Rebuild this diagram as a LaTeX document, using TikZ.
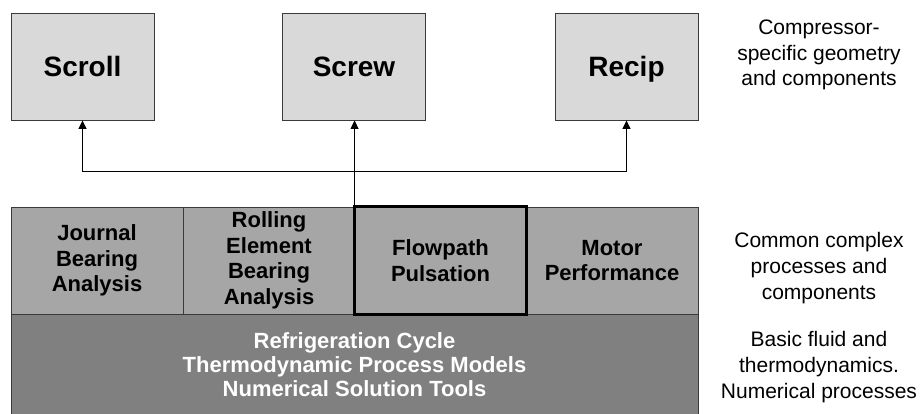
\documentclass[tikz,border=0pt]{standalone}
\usepackage{fontspec}
\setmainfont{Liberation Sans}
\usetikzlibrary{arrows.meta}
\definecolor{topfill}{HTML}{D9D9D9}
\definecolor{midfill}{HTML}{A6A6A6}
\definecolor{basefill}{HTML}{808080}
\definecolor{edge}{HTML}{3A3A3A}
\tikzset{
  compbox/.style={draw=edge, line width=0.9pt, fill=topfill, minimum width=143pt,
    minimum height=107pt, inner sep=0pt, text height=20pt, text depth=0pt,
    font=\fontsize{28}{32}\selectfont\bfseries},
  midbox/.style={draw=edge, line width=0.9pt, fill=midfill, minimum height=107pt,
    inner sep=0pt, align=center, font=\fontsize{22}{25.5}\selectfont\bfseries},
  basebox/.style={draw=edge, line width=0.9pt, fill=basefill, inner sep=0pt},
  basetext/.style={text=white, align=center, inner sep=0pt,
    font=\fontsize{22}{24}\selectfont\bfseries},
  layertext/.style={align=center, inner sep=0pt, font=\fontsize{21}{25.7}\selectfont},
  arr/.style={draw=black, line width=0.9pt, -{Triangle[length=8.5pt,width=8pt]}},
  highlight/.style={draw=black, line width=3.5pt}
}
\begin{document}
\begin{tikzpicture}[x=1pt,y=-1pt]
\useasboundingbox (0,0) rectangle (923,414);

% compressor-specific modules
\node[compbox] (scroll) at (82.5,66.5) {Scroll};
\node[compbox] (screw)  at (354,66.5) {Screw};
\node[compbox] (recip)  at (626.5,66.5) {Recip};

% basic fluid / numerical layer (runs off the lower edge)
\path[basebox] (11,314) rectangle (698,422);
\node[basetext] (basic) at (354.5,365)
  {Refrigeration Cycle\\Thermodynamic Process Models\\Numerical Solution Tools};

% common complex process modules
\node[midbox, minimum width=172pt] (journal) at (97,260.5) {Journal\\Bearing\\Analysis};
\node[midbox, minimum width=172pt] (rolling) at (269,260.5) {Rolling\\Element\\Bearing\\Analysis};
\node[midbox, minimum width=172pt] (motor)   at (612,260.5) {Motor\\Performance};
\node[midbox, minimum width=171pt] (flow)    at (440.5,260.5) {Flowpath\\Pulsation};
\draw[highlight] (flow.north west) rectangle (flow.south east);

% distribution of flowpath results to each compressor
\coordinate (bus) at (flow.north west |- 0,171.5);
\draw[arr] (flow.north west) -- (screw.south -| flow.north west);
\draw[arr] (bus) -| (scroll.south);
\draw[arr] (bus) -| (recip.south);

% layer descriptions
\node[layertext] (l1) at (819,55) {Compressor-\\specific geometry\\and components};
\node[layertext] (l2) at (819,268) {Common complex\\processes and\\components};
\node[layertext] (l3) at (819,367) {Basic fluid and\\thermodynamics.\\Numerical processes};
\end{tikzpicture}
\end{document}
